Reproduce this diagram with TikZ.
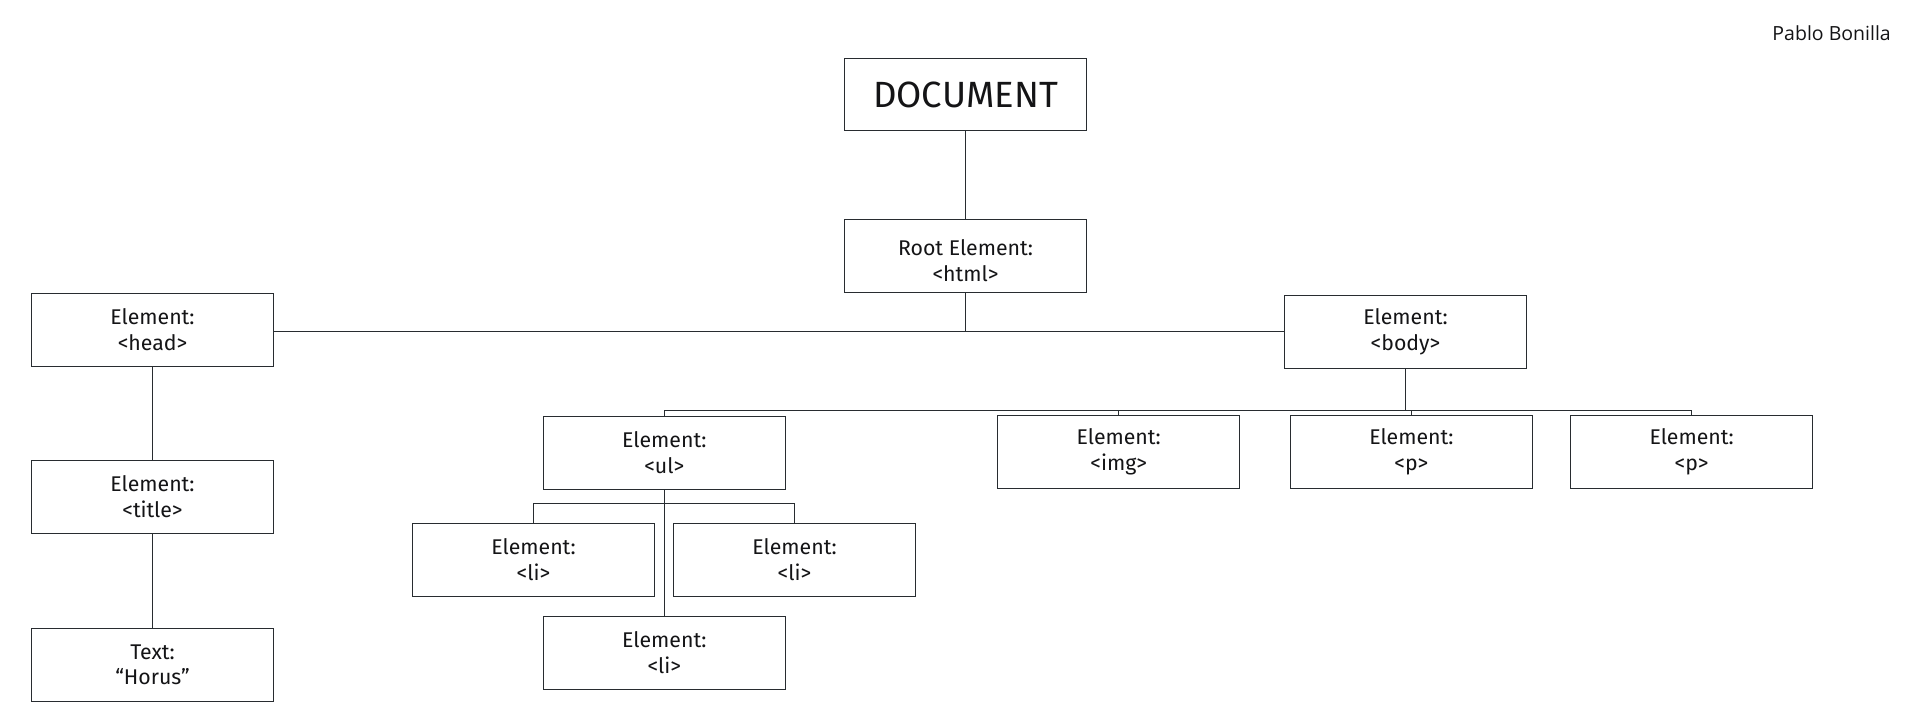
\documentclass[tikz,border=0pt]{standalone}
\usepackage{fontspec}
\setmainfont{Fira Sans}
\newfontfamily\authorfont{Open Sans}
\definecolor{edge}{RGB}{40,44,48}
\definecolor{ink}{RGB}{20,20,22}
\begin{document}
\begin{tikzpicture}[x=1pt,y=-1pt,
  treebox/.style={draw=edge, line width=1pt, fill=white, minimum width=242pt,
    minimum height=73pt, inner sep=0pt, align=center, text=ink,
    font=\fontsize{21.3}{25.5}\selectfont},
  link/.style={draw=edge, line width=1pt}]
\useasboundingbox (0,0) rectangle (1920,723);

% author credit
\node[anchor=east, inner sep=0pt, text=ink, font=\authorfont\fontsize{19.5}{22}\selectfont] (author) at (1891,33) {Pablo Bonilla};

% document and root
\node[treebox, minimum height=72.4pt, font=\fontsize{36.5}{40}\selectfont] (doc) at (965.5,94.5) {DOCUMENT};
\node[treebox] (root) at (965.5,255.8) {\rule{0pt}{26pt}Root Element:\\<html>};

% head branch
\node[treebox] (head) at (152.5,329.8) {Element:\\<head>};
\node[treebox] (title) at (152.5,496.8) {Element:\\<title>};
\node[treebox] (text) at (152.5,664.7) {Text:\\“Horus”};

% body branch
\node[treebox] (body) at (1405.5,331.7) {Element:\\<body>};
\node[treebox] (ul) at (664.3,452.8) {Element:\\<ul>};
\node[treebox] (img) at (1118.7,451.8) {Element:\\<img>};
\node[treebox] (p1) at (1411.4,451.8) {Element:\\<p>};
\node[treebox] (p2) at (1691.6,451.8) {Element:\\<p>};

% list items
\node[treebox] (li1) at (533.5,559.8) {Element:\\<li>};
\node[treebox] (li2) at (794.5,559.8) {Element:\\<li>};
\node[treebox] (li3) at (664.3,652.8) {Element:\\<li>};

% junction points
\coordinate (hb) at (966.3,331);
\coordinate (bb) at (1405.5,410.3);
\coordinate (ulb) at (664.3,503.7);

% connectors
\draw[link] (doc.south) -- (root.north);
\draw[link] (root.south) -- (root.south |- hb);
\draw[link] (head.east |- hb) -- (body.west |- hb);
\draw[link] (head.south) -- (title.north);
\draw[link] (title.south) -- (text.north);
\draw[link] (body.south) -- (bb);
\draw[link] (ul.north) -- (ul.north |- bb) -- (p2.north |- bb) -- (p2.north);
\draw[link] (img.north) -- (img.north |- bb);
\draw[link] (p1.north) -- (p1.north |- bb);
\draw[link] (ul.south) -- (li3.north);
\draw[link] (li1.north) -- (li1.north |- ulb) -- (li2.north |- ulb) -- (li2.north);
\end{tikzpicture}
\end{document}
